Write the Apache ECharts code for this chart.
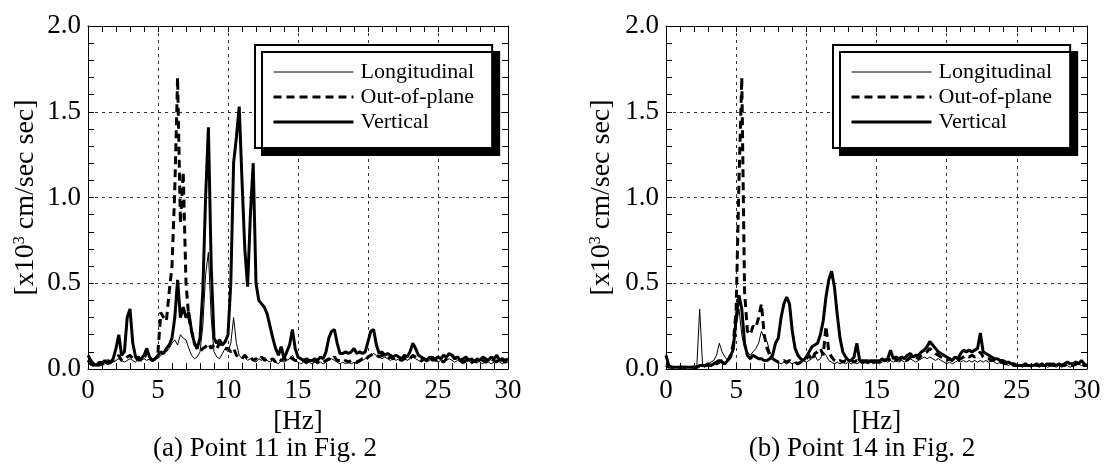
<!DOCTYPE html>
<html><head><meta charset="utf-8">
<script src="https://cdn.jsdelivr.net/npm/echarts@6/dist/echarts.min.js"></script>
<style>html,body{margin:0;padding:0;background:#fff}#c{width:1104px;height:467px}</style>
</head><body><div id="c"></div><script>
// frequency grid 0..30 Hz, step 0.2 Hz
const freq = Array.from({length:151}, (_, i) => +(i * 0.2).toFixed(1));
const seriesNames = ['Longitudinal', 'Out-of-plane', 'Vertical'];
const xTicks = [0, 5, 10, 15, 20, 25, 30];
const yTicks = ['0.0', '0.5', '1.0', '1.5', '2.0'];
const captions = ['(a) Point 11 in Fig. 2', '(b) Point 14 in Fig. 2'];

// ---- (a) Point 11 ----
const longA = [
0.05,0.02,0.03,0.02,0.03, 0.02,0.03,0.04,0.03,0.04, 0.05,0.06,0.05,0.04,0.05, 0.06,0.05,0.04,0.06,0.05,
0.06,0.05,0.06,0.05,0.07, 0.06,0.08,0.09,0.10,0.12, 0.15,0.17,0.14,0.20,0.18, 0.17,0.12,0.08,0.06,0.07,
0.10,0.25,0.55,0.68,0.30, 0.10,0.07,0.06,0.09,0.12, 0.10,0.15,0.30,0.15,0.08, 0.06,0.07,0.05,0.06,0.05,
0.04,0.06,0.05,0.07,0.05, 0.04,0.05,0.04,0.03,0.05, 0.04,0.05,0.06,0.08,0.05, 0.04,0.03,0.04,0.03,0.04,
0.03,0.04,0.03,0.04,0.03, 0.04,0.05,0.06,0.05,0.04, 0.03,0.04,0.03,0.04,0.03, 0.04,0.03,0.04,0.05,0.06,
0.07,0.08,0.09,0.08,0.07, 0.06,0.07,0.06,0.05,0.06, 0.05,0.06,0.05,0.06,0.05, 0.06,0.07,0.06,0.05,0.04,
0.05,0.04,0.05,0.06,0.05, 0.04,0.05,0.04,0.05,0.06, 0.05,0.04,0.05,0.04,0.03, 0.04,0.05,0.03,0.04,0.05,
0.04,0.03,0.05,0.04,0.03, 0.04,0.05,0.04,0.03,0.04, 0.04];
const outA = [
0.05,0.03,0.02,0.03,0.02, 0.04,0.03,0.05,0.04,0.05, 0.06,0.08,0.05,0.06,0.07, 0.08,0.06,0.05,0.07,0.05,
0.06,0.10,0.06,0.05,0.06, 0.10,0.33,0.30,0.28,0.45, 0.60,1.05,1.70,0.85,1.15, 0.50,0.30,0.22,0.15,0.12,
0.10,0.12,0.13,0.15,0.12, 0.14,0.12,0.15,0.13,0.12, 0.12,0.10,0.12,0.08,0.07, 0.06,0.08,0.06,0.07,0.05,
0.06,0.05,0.07,0.05,0.06, 0.05,0.06,0.04,0.06,0.05, 0.06,0.05,0.07,0.06,0.05, 0.05,0.06,0.05,0.04,0.05,
0.04,0.05,0.04,0.05,0.04, 0.05,0.06,0.05,0.07,0.05, 0.05,0.04,0.05,0.04,0.05, 0.05,0.04,0.05,0.06,0.05,
0.07,0.08,0.09,0.08,0.07, 0.08,0.07,0.06,0.07,0.06, 0.07,0.06,0.05,0.06,0.07, 0.06,0.08,0.07,0.06,0.05,
0.06,0.05,0.06,0.07,0.05, 0.06,0.05,0.04,0.06,0.07, 0.08,0.06,0.07,0.05,0.04, 0.05,0.06,0.04,0.05,0.04,
0.06,0.05,0.04,0.05,0.06, 0.05,0.04,0.07,0.05,0.04, 0.05];
const vertA = [
0.08,0.05,0.03,0.02,0.04, 0.03,0.05,0.03,0.04,0.06, 0.12,0.20,0.08,0.10,0.30, 0.35,0.15,0.07,0.05,0.06,
0.08,0.12,0.07,0.05,0.06, 0.08,0.10,0.09,0.12,0.14, 0.18,0.30,0.52,0.30,0.36, 0.30,0.33,0.22,0.15,0.12,
0.18,0.45,1.00,1.41,0.60, 0.18,0.15,0.17,0.14,0.16, 0.20,0.50,1.20,1.35,1.53, 1.10,0.70,0.48,0.90,1.20,
0.50,0.40,0.38,0.36,0.32, 0.25,0.18,0.12,0.08,0.13, 0.06,0.10,0.14,0.23,0.12, 0.07,0.06,0.05,0.06,0.05,
0.05,0.06,0.05,0.07,0.06, 0.10,0.18,0.22,0.23,0.15, 0.09,0.09,0.10,0.09,0.10, 0.12,0.09,0.10,0.09,0.10,
0.16,0.22,0.23,0.14,0.09, 0.10,0.08,0.09,0.08,0.07, 0.08,0.07,0.06,0.08,0.07, 0.10,0.15,0.12,0.08,0.07,
0.06,0.05,0.07,0.05,0.06, 0.07,0.06,0.08,0.07,0.09, 0.08,0.06,0.07,0.05,0.06, 0.07,0.05,0.06,0.04,0.06,
0.05,0.07,0.06,0.05,0.07, 0.06,0.08,0.05,0.06,0.05, 0.06];

// ---- (b) Point 14 ----
const longB = [
0.09,0.01,0.01,0.01,0.01, 0.01,0.01,0.01,0.01,0.01, 0.01,0.02,0.35,0.03,0.02, 0.03,0.04,0.05,0.08,0.15,
0.10,0.07,0.05,0.08,0.12, 0.25,0.35,0.20,0.12,0.10, 0.08,0.10,0.12,0.15,0.22, 0.18,0.16,0.10,0.07,0.05,
0.04,0.03,0.04,0.03,0.04, 0.03,0.04,0.03,0.04,0.05, 0.04,0.05,0.06,0.08,0.05, 0.06,0.10,0.08,0.05,0.04,
0.03,0.04,0.03,0.04,0.03, 0.04,0.03,0.04,0.03,0.04, 0.03,0.04,0.03,0.04,0.03, 0.04,0.03,0.04,0.05,0.04,
0.05,0.04,0.05,0.04,0.05, 0.04,0.05,0.06,0.05,0.04, 0.05,0.06,0.07,0.06,0.07, 0.06,0.05,0.06,0.05,0.04,
0.03,0.04,0.03,0.04,0.05, 0.04,0.05,0.04,0.05,0.04, 0.05,0.04,0.05,0.04,0.05, 0.04,0.05,0.04,0.03,0.04,
0.03,0.03,0.02,0.03,0.02, 0.02,0.02,0.01,0.02,0.02, 0.01,0.02,0.02,0.01,0.02, 0.02,0.01,0.02,0.02,0.01,
0.02,0.01,0.02,0.02,0.01, 0.02,0.02,0.03,0.02,0.02, 0.02];
const outB = [
0.02,0.01,0.01,0.01,0.01, 0.01,0.01,0.01,0.01,0.01, 0.01,0.01,0.02,0.01,0.02, 0.02,0.02,0.03,0.03,0.04,
0.05,0.06,0.05,0.08,0.15, 0.35,1.10,1.70,0.45,0.22, 0.20,0.25,0.24,0.30,0.38, 0.20,0.12,0.08,0.06,0.05,
0.04,0.04,0.05,0.04,0.05, 0.04,0.04,0.03,0.04,0.05, 0.06,0.08,0.05,0.09,0.10, 0.12,0.08,0.25,0.10,0.07,
0.05,0.04,0.05,0.04,0.05, 0.04,0.05,0.04,0.05,0.04, 0.05,0.04,0.05,0.04,0.05, 0.04,0.05,0.04,0.05,0.06,
0.05,0.06,0.05,0.06,0.05, 0.06,0.05,0.07,0.06,0.07, 0.06,0.08,0.09,0.10,0.12, 0.10,0.09,0.08,0.07,0.06,
0.05,0.06,0.05,0.04,0.05, 0.06,0.07,0.08,0.07,0.08, 0.07,0.08,0.10,0.07,0.06, 0.06,0.05,0.05,0.04,0.04,
0.04,0.03,0.03,0.03,0.02, 0.02,0.02,0.03,0.02,0.02, 0.02,0.03,0.02,0.02,0.03, 0.02,0.02,0.03,0.02,0.02,
0.03,0.02,0.02,0.03,0.02, 0.02,0.03,0.04,0.03,0.02, 0.02];
const vertB = [
0.08,0.02,0.01,0.01,0.01, 0.01,0.01,0.01,0.01,0.01, 0.01,0.01,0.02,0.02,0.02, 0.03,0.02,0.03,0.04,0.05,
0.04,0.03,0.05,0.07,0.12, 0.30,0.43,0.35,0.15,0.08, 0.06,0.08,0.07,0.06,0.06, 0.05,0.05,0.06,0.08,0.15,
0.18,0.30,0.38,0.42,0.38, 0.22,0.12,0.08,0.06,0.05, 0.07,0.10,0.13,0.14,0.15, 0.20,0.28,0.42,0.52,0.57,
0.48,0.32,0.18,0.10,0.07, 0.05,0.05,0.07,0.15,0.05, 0.04,0.05,0.04,0.05,0.04, 0.05,0.04,0.06,0.05,0.06,
0.11,0.06,0.07,0.06,0.07, 0.06,0.08,0.09,0.07,0.08, 0.08,0.10,0.11,0.13,0.16, 0.14,0.12,0.10,0.09,0.08,
0.07,0.06,0.05,0.07,0.06, 0.09,0.11,0.10,0.11,0.10, 0.11,0.12,0.21,0.10,0.09, 0.08,0.07,0.06,0.06,0.05,
0.05,0.04,0.04,0.03,0.03, 0.02,0.02,0.02,0.03,0.02, 0.02,0.02,0.03,0.02,0.02, 0.02,0.03,0.02,0.03,0.02,
0.03,0.02,0.03,0.04,0.03, 0.03,0.04,0.03,0.05,0.03, 0.02];

const panels = [[longA, outA, vertA], [longB, outB, vertB]];

const FONT = '"Liberation Serif","Times New Roman",serif';
const BLACK = '#000';
const grids = [
  {left: 88, right: 596, top: 26, bottom: 98},
  {left: 666, right: 17, top: 26, bottom: 98}
];
const yNameGaps = [48, 50];
const legendLefts = [255, 833];
const captionX = [265, 862];

const lineStyles = [
  {color: BLACK, width: 1},
  {color: BLACK, width: 3, type: [8, 5]},
  {color: BLACK, width: 3}
];

const xAxes = [], yAxes = [], series = [], legends = [], graphics = [];
grids.forEach((g, gi) => {
  const tickCommon = {
    axisLine: {show: true, onZero: false, lineStyle: {color: BLACK, width: 1}},
    axisTick: {show: true, inside: true, length: 6, lineStyle: {color: BLACK, width: 1}},
    minorTick: {show: true, splitNumber: 5, length: 6, lineStyle: {color: BLACK, width: 1}}
  };
  xAxes.push(Object.assign({
    gridIndex: gi, type: 'value', position: 'bottom', min: xTicks[0], max: xTicks[xTicks.length - 1], interval: 5,
    axisLabel: {fontFamily: FONT, fontSize: 27, color: BLACK, margin: 8},
    splitLine: {show: true, lineStyle: {color: '#333', width: 1, type: [3, 4]}},
    name: '[Hz]', nameLocation: 'middle', nameGap: 35,
    nameTextStyle: {fontFamily: FONT, fontSize: 27, color: BLACK}
  }, tickCommon));
  xAxes.push(Object.assign({
    gridIndex: gi, type: 'value', position: 'top', min: 0, max: 30, interval: 5,
    axisLabel: {show: false}, splitLine: {show: false}
  }, tickCommon));
  yAxes.push(Object.assign({
    gridIndex: gi, type: 'value', position: 'left', min: 0, max: 2, interval: 0.5,
    axisLabel: {fontFamily: FONT, fontSize: 27, color: BLACK, margin: 7,
      formatter: v => yTicks[Math.round(v / 0.5)]},
    splitLine: {show: true, lineStyle: {color: '#333', width: 1, type: [3, 4]}},
    name: '{a|[x10}{s|3}{a| cm/sec sec]}', nameLocation: 'middle', nameGap: yNameGaps[gi], nameRotate: 90,
    nameTextStyle: {fontFamily: FONT, fontSize: 28, color: BLACK,
      rich: {a: {fontFamily: FONT, fontSize: 28, color: BLACK},
             s: {fontFamily: FONT, fontSize: 16, color: BLACK, verticalAlign: 'top'}}}
  }, tickCommon));
  yAxes.push(Object.assign({
    gridIndex: gi, type: 'value', position: 'right', min: 0, max: 2, interval: 0.5,
    axisLabel: {show: false}, splitLine: {show: false}
  }, tickCommon));

  panels[gi].forEach((vals, si) => {
    series.push({
      name: seriesNames[si], type: 'line', xAxisIndex: gi * 2, yAxisIndex: gi * 2,
      data: freq.map((f, i) => [f, vals[i]]),
      symbol: 'none', showSymbol: false, lineStyle: lineStyles[si], itemStyle: {color: BLACK},
      z: 2 + si
    });
  });

  legends.push({
    data: seriesNames, orient: 'vertical', left: legendLefts[gi], top: 45,
    itemWidth: 80, itemHeight: 14, itemGap: 3, padding: [16, 18, 15, 17],
    backgroundColor: '#fff', borderColor: BLACK, borderWidth: 2,
    shadowColor: BLACK, shadowBlur: 0, shadowOffsetX: 7, shadowOffsetY: 7,
    selectedMode: false,
    itemStyle: {opacity: 0},
    lineStyle: {width: 'inherit', type: 'inherit'},
    textStyle: {fontFamily: FONT, fontSize: 22, color: BLACK, lineHeight: 22, padding: [0, 0, 0, 2]}
  });

  graphics.push({
    type: 'text', x: captionX[gi], y: 449,
    style: {text: captions[gi], fontFamily: FONT, fontSize: 27, fill: BLACK,
      textAlign: 'center', textVerticalAlign: 'middle'}
  });
});

const chart = echarts.init(document.getElementById('c'), null, {renderer: 'canvas'});
chart.setOption({
  animation: false,
  backgroundColor: '#fff',
  grid: grids,
  xAxis: xAxes,
  yAxis: yAxes,
  legend: legends,
  series: series,
  graphic: graphics
});
</script></body></html>
